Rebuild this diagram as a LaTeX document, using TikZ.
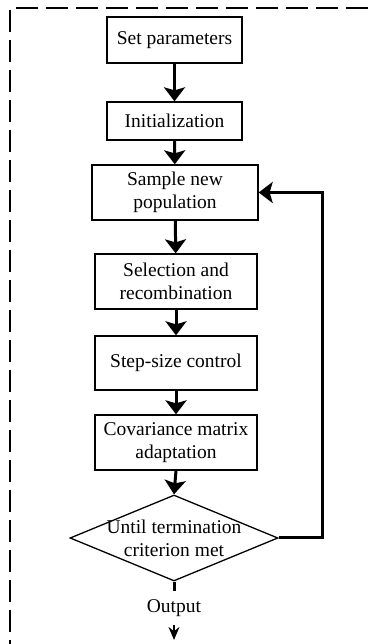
\documentclass[tikz,border=0pt]{standalone}
\usepackage{fontspec}
\setmainfont{Liberation Serif}
\usetikzlibrary{arrows.meta,shapes.geometric}
\begin{document}
\begin{tikzpicture}[x=1pt,y=1pt,
  txt/.style={font=\fontsize{19.5}{23}\selectfont,align=center},
  box/.style={txt,draw,line width=1.3pt,inner sep=0pt},
  flow/.style={line width=3pt,-{Stealth[length=14pt,width=21pt,inset=3pt]}},
  frame/.style={line width=1.6pt,dash pattern=on 22pt off 8pt}]
\useasboundingbox (0,0) rectangle (368,644);
\draw[frame] (368,636) -- (10,636) -- (10,0);
\node[box,minimum width=135pt,minimum height=46pt] (sp) at (174.5,604) {Set parameters};
\node[box,minimum width=135pt,minimum height=38pt] (init) at (174.5,523) {Initialization};
\node[box,minimum width=166pt,minimum height=55pt] (sample) at (175,451.5) {Sample new\\population};
\node[box,minimum width=162pt,minimum height=55pt] (sel) at (176,362.5) {Selection and\\recombination};
\node[box,minimum width=162pt,minimum height=54pt] (step) at (176,281) {Step-size control};
\node[box,minimum width=162pt,minimum height=55pt] (cov) at (176,201.5) {Covariance matrix\\adaptation};
\node[draw,diamond,line width=1.3pt,minimum width=208pt,minimum height=86pt,inner sep=0pt] (dec) at (174,106) {};
\node[txt] (dectext) at (174,106) {Until termination\\criterion met};
\node[txt,minimum height=34pt,inner sep=0pt] (out) at (174,36) {Output};
\coordinate (lp) at (322,106);
\coordinate (outend) at (174,4);
\draw[flow] (sp) -- (init);
\draw[flow] (init) -- (sample);
\draw[flow] (sample) -- (sel);
\draw[flow] (sel) -- (step);
\draw[flow] (step) -- (cov);
\draw[flow] (cov.south) -- (dec.north);
\draw[flow] (dec.east) -- (lp) |- (sample.east);
\draw[line width=3pt] (dec.south) -- (out.north);
\draw[line width=2pt,-{Stealth[length=13pt,width=11pt]}] (out.south) -- (outend);
\end{tikzpicture}
\end{document}
